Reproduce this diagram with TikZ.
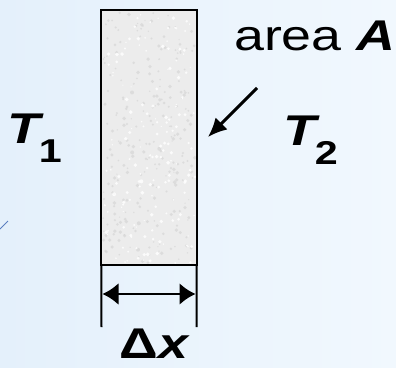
\documentclass[tikz,border=0pt]{standalone}
\usepackage{fontspec}
\setmainfont{Liberation Sans}
\usetikzlibrary{positioning,arrows.meta}
\definecolor{bgleft}{HTML}{E4F0FB}
\definecolor{bgright}{HTML}{F1F8FE}
\definecolor{slabgray}{HTML}{ECECEC}
\definecolor{speck}{HTML}{D6D6D6}
\definecolor{tick}{HTML}{5A7FC0}
\newcommand{\wide}[1]{\scalebox{1.25}[1]{#1}}
\newcommand{\lowsub}[1]{\raisebox{-19pt}{\fontsize{33}{40}\selectfont\bfseries #1}}

\begin{document}
\begin{tikzpicture}[x=1pt,y=-1pt,
			every node/.style={
				inner sep=0pt,
				font=\fontsize{43}{50}\selectfont
			}]
			
			\useasboundingbox (0,0) rectangle (396,367);
			\fill[left color=bgleft,right color=bgright] (0,0) rectangle (396,367);
			
			\draw[tick,line width=0.8pt] (0,229) -- (8,221);
			
			\node(slab)[fill=slabgray,minimum width=95pt,minimum height=255pt] at (149,137.5){};
			
			% speckled surface of the slab
			\pgfmathsetseed{7}
			\foreach \i in {1,...,260}{
				\fill[speck,opacity=0.7] (103+92*rnd,11+252*rnd) circle (0.6+1.4*rnd);
			}
			\foreach \i in {1,...,160}{
				\fill[white,opacity=0.8] (103+92*rnd,11+252*rnd) circle (0.6+1.4*rnd);
			}
			
			\draw[line width=2pt](slab.south west) rectangle (slab.north east);
			
			\coordinate(el) at (101.5,327);
			
			\coordinate(er) at (196.5,327);
			
			\coordinate(wl) at (102.5,294);
			
			\coordinate(wr) at (195.5,294);
			
			\draw[line width=2pt](slab.south west)--(el);
			
			\draw[line width=2pt](slab.south east)--(er);
			
			\draw[{Latex[length=16pt,width=22pt]}-{Latex[length=16pt,width=22pt]},line width=2.5pt](wl)--(wr);
			
			\node(t1)[anchor=base west] at (7,143){\wide{\textbf{\textit{T}}\kern-4pt\lowsub{1}}};
			
			\node(t2)[anchor=base west] at (283,145){\wide{\textbf{\textit{T}}\kern-4pt\lowsub{2}}};
			
			\node(area)[anchor=base west] at (234,50){\wide{area \textbf{\textit{A}}}};
			
			\node(dx)[anchor=base] at (155,358){\wide{\textbf{Δ\textit{x}}}};
			
			\coordinate(tail) at (257,88);
			
			\coordinate(head) at (208,137);
			
			\draw[-{Latex[length=19pt,width=17pt]},line width=3pt](tail)--(head);
			
		\end{tikzpicture}
\end{document}
